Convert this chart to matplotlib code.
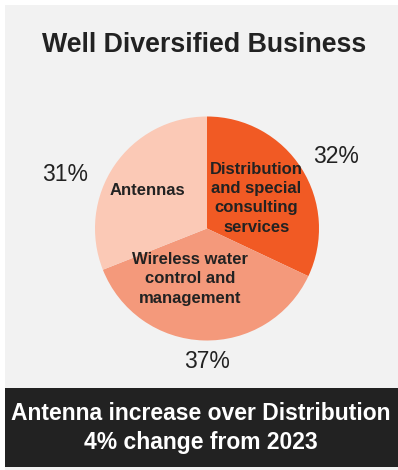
import matplotlib
matplotlib.use("Agg")
import matplotlib.pyplot as plt
from matplotlib.patches import Rectangle

plt.rcParams['font.family'] = ['Liberation Sans', 'DejaVu Sans']

# segment shares, clockwise from 12 o'clock
segments = ["Distribution\nand special\nconsulting\nservices",
            "Wireless water\ncontrol and\nmanagement",
            "Antennas"]
shares = [32, 37, 31]
colors = ["#F15A24", "#F4997B", "#FBC9B6"]

title = "Well Diversified Business"
footer = "Antenna increase over Distribution\n4% change from 2023"

W, H = 398, 470
fig = plt.figure(figsize=(W / 100, H / 100), dpi=100)
fig.patch.set_facecolor("white")

# light panel and dark footer band
fig.patches.append(Rectangle((5 / W, 0), 1, (H - 5) / H, transform=fig.transFigure,
                             facecolor="#F2F2F2", edgecolor="none", zorder=-2))
fig.patches.append(Rectangle((5 / W, 3 / H), 1, (467 - 388) / H, transform=fig.transFigure,
                             facecolor="#222222", edgecolor="none", zorder=-1))

fig.text(204 / W, 1 - 45 / H, title, ha="center", va="center",
         fontsize=19.3, fontweight="bold", color="#222222")
fig.text(201 / W, 1 - 428 / H, footer, ha="center", va="center",
         fontsize=16.5, fontweight="bold", color="white", linespacing=1.3)

# pie axes
cx, cy, r = 207, 228.5, 112
ax = fig.add_axes([(cx - r) / W, 1 - (cy + r) / H, 2 * r / W, 2 * r / H])
ax.set_zorder(2)
ax.set_facecolor("none")
wedges, _ = ax.pie(shares, colors=colors, startangle=90, counterclock=False,
                   radius=1, wedgeprops=dict(linewidth=0))
ax.set_xlim(-1, 1)
ax.set_ylim(-1, 1)
ax.set_aspect("equal")
ax.axis("off")

# labels inside the slices
inner_pos = [(0.44, 0.27), (-0.15, -0.45), (-0.53, 0.34)]
for (x, y), name in zip(inner_pos, segments):
    ax.text(x, y, name, ha="center", va="center", fontsize=12,
            fontweight="bold", color="#222222", linespacing=1.35)

# percentages outside
outer_pos = [(1.15, 0.64), (0.0, -1.19), (-1.27, 0.48)]
for (x, y), v in zip(outer_pos, shares):
    ax.text(x, y, f"{v}%", ha="center", va="center", fontsize=16.5,
            color="#222222", clip_on=False)

fig.savefig("out.png", dpi=100, facecolor=fig.get_facecolor())
